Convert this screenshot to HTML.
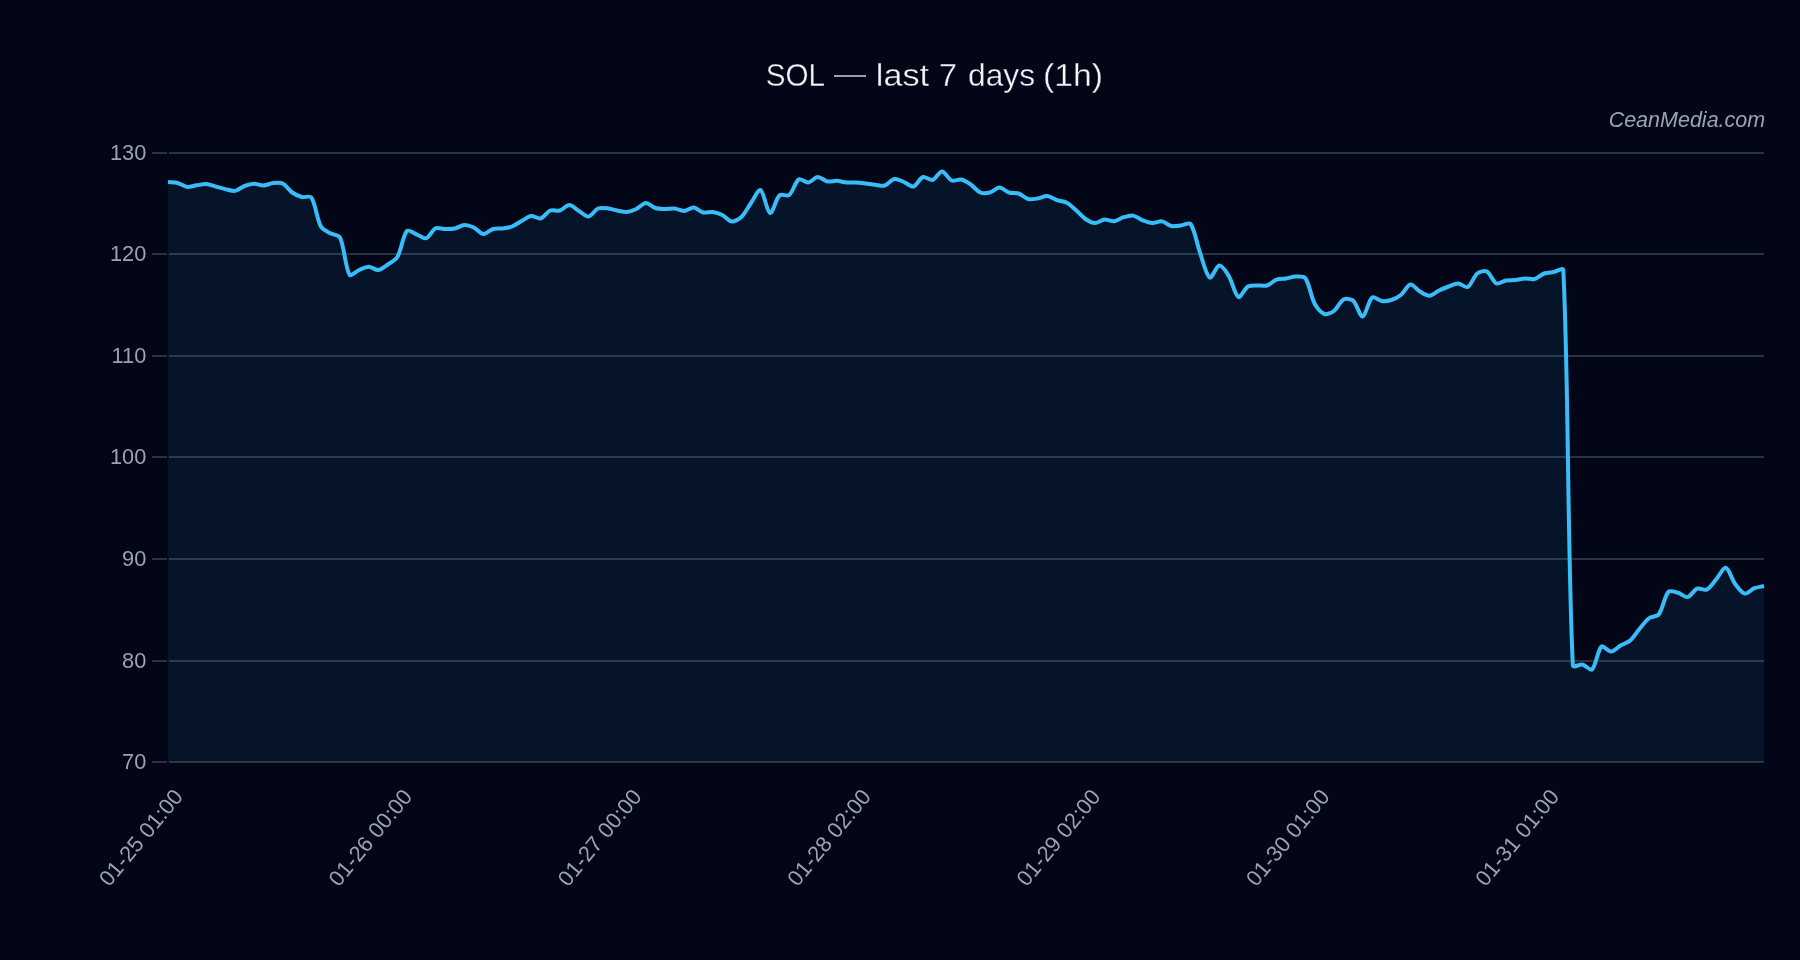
<!DOCTYPE html>
<html><head><meta charset="utf-8"><style>
html,body{margin:0;padding:0;background:#020617;width:1800px;height:960px;overflow:hidden}
svg{display:block;will-change:transform}
text{font-family:"Liberation Sans",sans-serif}
</style></head><body>
<svg width="1800" height="960" viewBox="0 0 1800 960">
<rect width="1800" height="960" fill="#020617"/>
<g font-size="32" fill="#f3f4f6" stroke="#020617" stroke-width="0.35"><text x="765.7" y="86" textLength="59.3" lengthAdjust="spacingAndGlyphs">SOL</text><rect x="834" y="75.25" width="32" height="1.5" stroke="none" opacity="0.85"/><text x="875.8" y="86" textLength="53.2" lengthAdjust="spacingAndGlyphs">last</text><text x="939" y="86" textLength="18" lengthAdjust="spacingAndGlyphs">7</text><text x="968" y="86" textLength="67" lengthAdjust="spacingAndGlyphs">days</text><text x="1043" y="86" textLength="60" lengthAdjust="spacingAndGlyphs">(1h)</text></g>
<text x="1765.2" y="127.3" text-anchor="end" font-size="21.5" font-style="italic" fill="#9ca3af">CeanMedia.com</text>
<rect x="169" y="152" width="1595" height="2" fill="rgba(148,163,184,0.28)"/><rect x="152" y="152" width="15" height="2" fill="rgba(148,163,184,0.28)"/><rect x="169" y="253" width="1595" height="2" fill="rgba(148,163,184,0.28)"/><rect x="152" y="253" width="15" height="2" fill="rgba(148,163,184,0.28)"/><rect x="169" y="355" width="1595" height="2" fill="rgba(148,163,184,0.28)"/><rect x="152" y="355" width="15" height="2" fill="rgba(148,163,184,0.28)"/><rect x="169" y="456" width="1595" height="2" fill="rgba(148,163,184,0.28)"/><rect x="152" y="456" width="15" height="2" fill="rgba(148,163,184,0.28)"/><rect x="169" y="558" width="1595" height="2" fill="rgba(148,163,184,0.28)"/><rect x="152" y="558" width="15" height="2" fill="rgba(148,163,184,0.28)"/><rect x="169" y="660" width="1595" height="2" fill="rgba(148,163,184,0.28)"/><rect x="152" y="660" width="15" height="2" fill="rgba(148,163,184,0.28)"/><rect x="169" y="761" width="1595" height="2" fill="rgba(148,163,184,0.28)"/><rect x="152" y="761" width="15" height="2" fill="rgba(148,163,184,0.28)"/>
<path d="M168 182C170.87 182.3 174.79 182.29 177.56 183C180.53 183.76 184.16 186.54 187.11 186.9C189.89 187.23 193.79 185.72 196.67 185.3C199.53 184.88 203.4 183.91 206.23 184.1C209.13 184.3 212.92 185.85 215.78 186.6C218.65 187.35 222.45 188.45 225.34 189.1C228.19 189.74 232.17 191.34 234.9 190.9C237.91 190.41 241.46 187.11 244.46 186C247.19 184.98 251.13 183.88 254.01 183.8C256.86 183.73 260.72 185.6 263.57 185.5C266.46 185.39 270.22 183.4 273.13 183.1C275.95 182.8 280.27 182.31 282.68 183.5C286 185.13 289.06 190.26 292.24 192.5C294.8 194.31 298.79 196.21 301.8 197C304.52 197.71 309.98 195.39 311.35 197.5C315.72 204.24 316.77 218.74 320.91 226.5C322.5 229.48 327.43 231.55 330.47 233.3C333.17 234.85 338.8 234.85 340.02 237.5C344.53 247.27 345.09 267.07 349.58 274.7C350.83 276.82 356.2 271.23 359.14 270C361.93 268.83 365.83 266.7 368.69 266.7C371.56 266.7 375.51 270.32 378.25 270C381.24 269.66 385.08 266.36 387.81 264.5C390.81 262.46 395.62 260.06 397.37 257C401.35 250.01 402.72 235.99 406.92 231C408.46 229.18 413.65 233.22 416.48 234.3C419.38 235.41 423.58 239.07 426.04 238.3C429.31 237.27 432.21 229.95 435.59 228.3C437.94 227.16 442.28 228.97 445.15 229C448.01 229.03 451.93 229.08 454.71 228.5C457.66 227.88 461.35 225.15 464.26 225C467.09 224.85 471.18 226.26 473.82 227.5C476.91 228.96 480.41 233.77 483.38 234C486.15 234.22 489.9 229.87 492.93 229C495.63 228.22 499.65 228.87 502.49 228.5C505.39 228.12 509.35 227.56 512.05 226.5C515.09 225.31 518.71 222.59 521.6 221C524.44 219.44 528.17 216.39 531.16 216C533.9 215.64 538.18 219.23 540.72 218.5C543.92 217.58 547.03 211.86 550.28 210.5C552.76 209.46 557.17 211.27 559.83 210.5C562.9 209.62 566.56 204.93 569.39 205C572.29 205.08 576.05 209.26 578.95 211C581.78 212.71 585.81 216.85 588.5 216.5C591.55 216.1 594.81 209.89 598.06 208.5C600.55 207.43 604.79 208 607.62 208.3C610.52 208.6 614.29 209.94 617.17 210.5C620.02 211.05 623.91 212.22 626.73 212C629.65 211.77 633.59 210.27 636.29 209C639.33 207.57 642.91 203.15 645.84 203C648.65 202.85 652.37 207.05 655.4 208C658.1 208.85 662.09 208.92 664.96 209C667.82 209.07 671.69 208.2 674.51 208.5C677.43 208.8 681.25 211.15 684.07 211C686.98 210.85 690.84 207.28 693.63 207.5C696.58 207.73 700.15 211.78 703.19 212.5C705.88 213.13 709.94 211.63 712.74 212C715.67 212.38 719.64 213.68 722.3 215C725.37 216.53 728.86 221.19 731.86 221.5C734.59 221.79 739.21 219.13 741.41 217C744.95 213.58 748.03 207.15 750.97 203C753.77 199.05 758.28 188.81 760.53 190C764.01 191.84 766.91 212.22 770.08 213.1C772.65 213.81 775.75 198.99 779.64 195.3C781.48 193.56 787.22 196.63 789.2 195C792.96 191.89 795.06 181.92 798.75 179.5C800.79 178.17 805.58 182.86 808.31 182.5C811.32 182.11 814.94 177.15 817.87 177C820.67 176.85 824.42 180.9 827.43 181.5C830.15 182.04 834.13 180.65 836.98 180.8C839.87 180.95 843.65 182.24 846.54 182.5C849.38 182.75 853.24 182.35 856.1 182.5C858.97 182.65 862.79 183.16 865.65 183.5C868.53 183.85 872.33 184.5 875.21 184.8C878.07 185.1 882.17 186.29 884.77 185.5C887.9 184.55 891.25 179.56 894.32 179C896.99 178.51 901.09 180.9 903.88 182C906.82 183.15 910.92 187.16 913.44 186.5C916.65 185.66 919.7 178.12 922.99 177C925.44 176.17 930.03 180.72 932.55 180C935.77 179.07 939.28 171.43 942.11 171.5C945.01 171.58 948.35 179.11 951.66 180.5C954.09 181.51 958.52 178.93 961.22 179.5C964.25 180.13 968.12 182.69 970.78 184.5C973.85 186.59 977.09 191.14 980.34 192.5C982.82 193.54 987.2 193.2 989.89 192.5C992.93 191.7 996.58 187.5 999.45 187.5C1002.32 187.5 1005.97 191.55 1009.01 192.5C1011.71 193.35 1015.89 192.59 1018.56 193.5C1021.63 194.54 1025.05 198.2 1028.12 199C1030.78 199.7 1034.86 198.94 1037.68 198.5C1040.59 198.04 1044.43 195.78 1047.23 196C1050.17 196.23 1053.86 199 1056.79 200C1059.59 200.95 1063.78 201.15 1066.35 202.5C1069.51 204.15 1073.15 207.62 1075.9 210C1078.88 212.57 1082.26 216.82 1085.46 219C1087.99 220.72 1092.12 222.91 1095.02 223C1097.85 223.09 1101.64 219.88 1104.57 219.6C1107.38 219.34 1111.36 221.55 1114.13 221.2C1117.09 220.83 1120.73 218.07 1123.69 217.2C1126.46 216.39 1130.51 215.16 1133.25 215.6C1136.25 216.09 1139.83 219.17 1142.8 220.3C1145.57 221.36 1149.46 222.73 1152.36 222.9C1155.19 223.06 1159.18 220.96 1161.92 221.4C1164.92 221.89 1168.46 225.35 1171.47 226C1174.19 226.58 1178.18 225.8 1181.03 225.5C1183.91 225.2 1189.21 222.01 1190.59 224C1194.94 230.29 1197.06 244.45 1200.14 253.1C1202.79 260.53 1206.08 275.23 1209.7 277.6C1211.81 278.98 1216.27 265.85 1219.26 265.6C1222.01 265.37 1226.64 272.42 1228.81 276C1232.37 281.84 1234.82 295.05 1238.37 297C1240.56 298.2 1244.51 288.57 1247.93 286.5C1250.24 285.09 1254.61 285.55 1257.49 285.4C1260.34 285.25 1264.41 286.3 1267.04 285.5C1270.14 284.56 1273.51 280.73 1276.6 279.6C1279.24 278.63 1283.31 278.96 1286.16 278.5C1289.04 278.03 1292.83 276.58 1295.71 276.5C1298.57 276.43 1303.79 275.86 1305.27 278C1309.52 284.11 1311 296.8 1314.83 304C1316.74 307.6 1321.06 312.78 1324.38 314C1326.79 314.88 1331.64 312.75 1333.94 311C1337.37 308.4 1340.01 301.42 1343.5 299.5C1345.74 298.27 1351.1 298.77 1353.05 300.5C1356.84 303.87 1359.93 316.92 1362.61 316.5C1365.67 316.02 1368.29 300.64 1372.17 297.5C1374.02 295.99 1378.78 300.61 1381.72 301C1384.51 301.36 1388.58 300.85 1391.28 300C1394.31 299.05 1398.36 297.01 1400.84 295C1404.1 292.36 1407.27 285.07 1410.4 284.5C1413 284.02 1416.9 289.71 1419.95 291.5C1422.64 293.07 1426.7 295.85 1429.51 295.7C1432.44 295.55 1436.13 291.91 1439.07 290.5C1441.86 289.15 1445.71 287.57 1448.62 286.5C1451.44 285.47 1455.34 283.43 1458.18 283.5C1461.07 283.58 1465.55 288.14 1467.74 287C1471.29 285.14 1473.69 276.42 1477.29 273.5C1479.42 271.77 1484.62 270.33 1486.85 271.5C1490.35 273.33 1492.94 281.87 1496.41 283.5C1498.67 284.57 1503.03 281.04 1505.96 280.5C1508.77 279.99 1512.67 280.3 1515.52 280C1518.4 279.7 1522.2 278.65 1525.08 278.5C1527.93 278.35 1531.97 279.7 1534.63 279C1537.7 278.2 1541.14 274.62 1544.19 273.5C1546.87 272.52 1550.89 272.52 1553.75 272C1556.63 271.47 1563.17 267.16 1563.31 270C1568.9 385.21 1567.26 549.96 1572.86 665.5C1573 668.31 1579.72 663.93 1582.42 664.5C1585.45 665.13 1590.24 671.13 1591.98 669.5C1595.98 665.73 1597.53 650.27 1601.53 646.5C1603.27 644.87 1608.29 651.65 1611.09 651.5C1614.02 651.35 1617.71 647.19 1620.65 645.5C1623.45 643.89 1627.84 642.61 1630.2 640.5C1633.57 637.51 1636.78 632.01 1639.76 628.5C1642.52 625.26 1645.99 620.49 1649.32 618C1651.73 616.2 1657.17 616.53 1658.87 614.2C1662.91 608.67 1664.32 596.43 1668.43 591.8C1670.05 589.98 1675.25 591.94 1677.99 592.7C1680.99 593.53 1684.95 597.64 1687.54 597.1C1690.68 596.44 1693.83 589.98 1697.1 588.7C1699.57 587.73 1704.33 590.74 1706.66 589.6C1710.07 587.92 1713.44 582.47 1716.22 579.3C1719.17 575.93 1723.25 567.15 1725.77 567.8C1728.98 568.62 1731.97 579.66 1735.33 584.2C1737.7 587.4 1741.73 592.94 1744.89 593.6C1747.47 594.14 1751.41 589.4 1754.44 588.2C1757.15 587.12 1761.13 586.66 1764 586L1764 762 L168 762 Z" fill="rgba(56,189,248,0.08)"/>
<path d="M168 182C170.87 182.3 174.79 182.29 177.56 183C180.53 183.76 184.16 186.54 187.11 186.9C189.89 187.23 193.79 185.72 196.67 185.3C199.53 184.88 203.4 183.91 206.23 184.1C209.13 184.3 212.92 185.85 215.78 186.6C218.65 187.35 222.45 188.45 225.34 189.1C228.19 189.74 232.17 191.34 234.9 190.9C237.91 190.41 241.46 187.11 244.46 186C247.19 184.98 251.13 183.88 254.01 183.8C256.86 183.73 260.72 185.6 263.57 185.5C266.46 185.39 270.22 183.4 273.13 183.1C275.95 182.8 280.27 182.31 282.68 183.5C286 185.13 289.06 190.26 292.24 192.5C294.8 194.31 298.79 196.21 301.8 197C304.52 197.71 309.98 195.39 311.35 197.5C315.72 204.24 316.77 218.74 320.91 226.5C322.5 229.48 327.43 231.55 330.47 233.3C333.17 234.85 338.8 234.85 340.02 237.5C344.53 247.27 345.09 267.07 349.58 274.7C350.83 276.82 356.2 271.23 359.14 270C361.93 268.83 365.83 266.7 368.69 266.7C371.56 266.7 375.51 270.32 378.25 270C381.24 269.66 385.08 266.36 387.81 264.5C390.81 262.46 395.62 260.06 397.37 257C401.35 250.01 402.72 235.99 406.92 231C408.46 229.18 413.65 233.22 416.48 234.3C419.38 235.41 423.58 239.07 426.04 238.3C429.31 237.27 432.21 229.95 435.59 228.3C437.94 227.16 442.28 228.97 445.15 229C448.01 229.03 451.93 229.08 454.71 228.5C457.66 227.88 461.35 225.15 464.26 225C467.09 224.85 471.18 226.26 473.82 227.5C476.91 228.96 480.41 233.77 483.38 234C486.15 234.22 489.9 229.87 492.93 229C495.63 228.22 499.65 228.87 502.49 228.5C505.39 228.12 509.35 227.56 512.05 226.5C515.09 225.31 518.71 222.59 521.6 221C524.44 219.44 528.17 216.39 531.16 216C533.9 215.64 538.18 219.23 540.72 218.5C543.92 217.58 547.03 211.86 550.28 210.5C552.76 209.46 557.17 211.27 559.83 210.5C562.9 209.62 566.56 204.93 569.39 205C572.29 205.08 576.05 209.26 578.95 211C581.78 212.71 585.81 216.85 588.5 216.5C591.55 216.1 594.81 209.89 598.06 208.5C600.55 207.43 604.79 208 607.62 208.3C610.52 208.6 614.29 209.94 617.17 210.5C620.02 211.05 623.91 212.22 626.73 212C629.65 211.77 633.59 210.27 636.29 209C639.33 207.57 642.91 203.15 645.84 203C648.65 202.85 652.37 207.05 655.4 208C658.1 208.85 662.09 208.92 664.96 209C667.82 209.07 671.69 208.2 674.51 208.5C677.43 208.8 681.25 211.15 684.07 211C686.98 210.85 690.84 207.28 693.63 207.5C696.58 207.73 700.15 211.78 703.19 212.5C705.88 213.13 709.94 211.63 712.74 212C715.67 212.38 719.64 213.68 722.3 215C725.37 216.53 728.86 221.19 731.86 221.5C734.59 221.79 739.21 219.13 741.41 217C744.95 213.58 748.03 207.15 750.97 203C753.77 199.05 758.28 188.81 760.53 190C764.01 191.84 766.91 212.22 770.08 213.1C772.65 213.81 775.75 198.99 779.64 195.3C781.48 193.56 787.22 196.63 789.2 195C792.96 191.89 795.06 181.92 798.75 179.5C800.79 178.17 805.58 182.86 808.31 182.5C811.32 182.11 814.94 177.15 817.87 177C820.67 176.85 824.42 180.9 827.43 181.5C830.15 182.04 834.13 180.65 836.98 180.8C839.87 180.95 843.65 182.24 846.54 182.5C849.38 182.75 853.24 182.35 856.1 182.5C858.97 182.65 862.79 183.16 865.65 183.5C868.53 183.85 872.33 184.5 875.21 184.8C878.07 185.1 882.17 186.29 884.77 185.5C887.9 184.55 891.25 179.56 894.32 179C896.99 178.51 901.09 180.9 903.88 182C906.82 183.15 910.92 187.16 913.44 186.5C916.65 185.66 919.7 178.12 922.99 177C925.44 176.17 930.03 180.72 932.55 180C935.77 179.07 939.28 171.43 942.11 171.5C945.01 171.58 948.35 179.11 951.66 180.5C954.09 181.51 958.52 178.93 961.22 179.5C964.25 180.13 968.12 182.69 970.78 184.5C973.85 186.59 977.09 191.14 980.34 192.5C982.82 193.54 987.2 193.2 989.89 192.5C992.93 191.7 996.58 187.5 999.45 187.5C1002.32 187.5 1005.97 191.55 1009.01 192.5C1011.71 193.35 1015.89 192.59 1018.56 193.5C1021.63 194.54 1025.05 198.2 1028.12 199C1030.78 199.7 1034.86 198.94 1037.68 198.5C1040.59 198.04 1044.43 195.78 1047.23 196C1050.17 196.23 1053.86 199 1056.79 200C1059.59 200.95 1063.78 201.15 1066.35 202.5C1069.51 204.15 1073.15 207.62 1075.9 210C1078.88 212.57 1082.26 216.82 1085.46 219C1087.99 220.72 1092.12 222.91 1095.02 223C1097.85 223.09 1101.64 219.88 1104.57 219.6C1107.38 219.34 1111.36 221.55 1114.13 221.2C1117.09 220.83 1120.73 218.07 1123.69 217.2C1126.46 216.39 1130.51 215.16 1133.25 215.6C1136.25 216.09 1139.83 219.17 1142.8 220.3C1145.57 221.36 1149.46 222.73 1152.36 222.9C1155.19 223.06 1159.18 220.96 1161.92 221.4C1164.92 221.89 1168.46 225.35 1171.47 226C1174.19 226.58 1178.18 225.8 1181.03 225.5C1183.91 225.2 1189.21 222.01 1190.59 224C1194.94 230.29 1197.06 244.45 1200.14 253.1C1202.79 260.53 1206.08 275.23 1209.7 277.6C1211.81 278.98 1216.27 265.85 1219.26 265.6C1222.01 265.37 1226.64 272.42 1228.81 276C1232.37 281.84 1234.82 295.05 1238.37 297C1240.56 298.2 1244.51 288.57 1247.93 286.5C1250.24 285.09 1254.61 285.55 1257.49 285.4C1260.34 285.25 1264.41 286.3 1267.04 285.5C1270.14 284.56 1273.51 280.73 1276.6 279.6C1279.24 278.63 1283.31 278.96 1286.16 278.5C1289.04 278.03 1292.83 276.58 1295.71 276.5C1298.57 276.43 1303.79 275.86 1305.27 278C1309.52 284.11 1311 296.8 1314.83 304C1316.74 307.6 1321.06 312.78 1324.38 314C1326.79 314.88 1331.64 312.75 1333.94 311C1337.37 308.4 1340.01 301.42 1343.5 299.5C1345.74 298.27 1351.1 298.77 1353.05 300.5C1356.84 303.87 1359.93 316.92 1362.61 316.5C1365.67 316.02 1368.29 300.64 1372.17 297.5C1374.02 295.99 1378.78 300.61 1381.72 301C1384.51 301.36 1388.58 300.85 1391.28 300C1394.31 299.05 1398.36 297.01 1400.84 295C1404.1 292.36 1407.27 285.07 1410.4 284.5C1413 284.02 1416.9 289.71 1419.95 291.5C1422.64 293.07 1426.7 295.85 1429.51 295.7C1432.44 295.55 1436.13 291.91 1439.07 290.5C1441.86 289.15 1445.71 287.57 1448.62 286.5C1451.44 285.47 1455.34 283.43 1458.18 283.5C1461.07 283.58 1465.55 288.14 1467.74 287C1471.29 285.14 1473.69 276.42 1477.29 273.5C1479.42 271.77 1484.62 270.33 1486.85 271.5C1490.35 273.33 1492.94 281.87 1496.41 283.5C1498.67 284.57 1503.03 281.04 1505.96 280.5C1508.77 279.99 1512.67 280.3 1515.52 280C1518.4 279.7 1522.2 278.65 1525.08 278.5C1527.93 278.35 1531.97 279.7 1534.63 279C1537.7 278.2 1541.14 274.62 1544.19 273.5C1546.87 272.52 1550.89 272.52 1553.75 272C1556.63 271.47 1563.17 267.16 1563.31 270C1568.9 385.21 1567.26 549.96 1572.86 665.5C1573 668.31 1579.72 663.93 1582.42 664.5C1585.45 665.13 1590.24 671.13 1591.98 669.5C1595.98 665.73 1597.53 650.27 1601.53 646.5C1603.27 644.87 1608.29 651.65 1611.09 651.5C1614.02 651.35 1617.71 647.19 1620.65 645.5C1623.45 643.89 1627.84 642.61 1630.2 640.5C1633.57 637.51 1636.78 632.01 1639.76 628.5C1642.52 625.26 1645.99 620.49 1649.32 618C1651.73 616.2 1657.17 616.53 1658.87 614.2C1662.91 608.67 1664.32 596.43 1668.43 591.8C1670.05 589.98 1675.25 591.94 1677.99 592.7C1680.99 593.53 1684.95 597.64 1687.54 597.1C1690.68 596.44 1693.83 589.98 1697.1 588.7C1699.57 587.73 1704.33 590.74 1706.66 589.6C1710.07 587.92 1713.44 582.47 1716.22 579.3C1719.17 575.93 1723.25 567.15 1725.77 567.8C1728.98 568.62 1731.97 579.66 1735.33 584.2C1737.7 587.4 1741.73 592.94 1744.89 593.6C1747.47 594.14 1751.41 589.4 1754.44 588.2C1757.15 587.12 1761.13 586.66 1764 586" fill="none" stroke="#38bdf8" stroke-width="4" stroke-linejoin="round" stroke-linecap="butt"/>
<g font-size="22.8" fill="#9ca3af"><text transform="translate(146.3 152.4) scale(0.955 1)" text-anchor="end" dominant-baseline="central">130</text><text transform="translate(146.3 253.4) scale(0.955 1)" text-anchor="end" dominant-baseline="central">120</text><text transform="translate(146.3 355.4) scale(0.955 1)" text-anchor="end" dominant-baseline="central">110</text><text transform="translate(146.3 456.4) scale(0.955 1)" text-anchor="end" dominant-baseline="central">100</text><text transform="translate(146.3 558.4) scale(0.955 1)" text-anchor="end" dominant-baseline="central">90</text><text transform="translate(146.3 660.4) scale(0.955 1)" text-anchor="end" dominant-baseline="central">80</text><text transform="translate(146.3 761.4) scale(0.955 1)" text-anchor="end" dominant-baseline="central">70</text></g>
<g font-size="22" fill="#9ca3af"><text x="184" y="797" text-anchor="end" transform="rotate(-50.5 184 797)">01-25 01:00</text><text x="413.37" y="797" text-anchor="end" transform="rotate(-50.5 413.37 797)">01-26 00:00</text><text x="642.73" y="797" text-anchor="end" transform="rotate(-50.5 642.73 797)">01-27 00:00</text><text x="872.1" y="797" text-anchor="end" transform="rotate(-50.5 872.1 797)">01-28 02:00</text><text x="1101.46" y="797" text-anchor="end" transform="rotate(-50.5 1101.46 797)">01-29 02:00</text><text x="1330.83" y="797" text-anchor="end" transform="rotate(-50.5 1330.83 797)">01-30 01:00</text><text x="1560.19" y="797" text-anchor="end" transform="rotate(-50.5 1560.19 797)">01-31 01:00</text></g>
</svg>
</body></html>
